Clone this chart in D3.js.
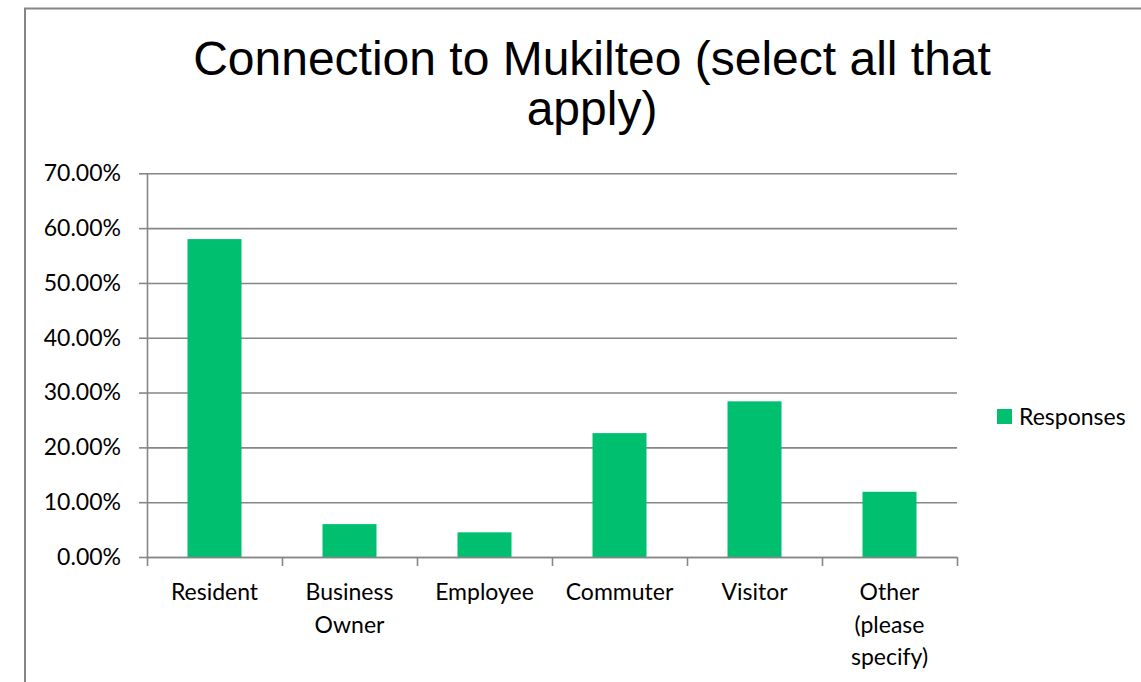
<!DOCTYPE html>
<html>
<head>
<meta charset="utf-8">
<script src="https://cdn.jsdelivr.net/npm/d3@7"></script>
<style>
  body { margin: 0; background: #fff; }
  svg { display: block; }
</style>
</head>
<body>
<div id="chart-container"></div>
<script>
// chart data
const titleLines = ["Connection to Mukilteo (select all that", "apply)"];
const categories = ["Resident", "Business Owner", "Employee", "Commuter", "Visitor", "Other (please specify)"];
const responses = [0.58, 0.06, 0.045, 0.226, 0.284, 0.119];
const yTicks = [0, 0.1, 0.2, 0.3, 0.4, 0.5, 0.6, 0.7];
const seriesName = "Responses";

const W = 1141, H = 682;
const plot = { left: 147, right: 957, top: 173.3, bottom: 557 };
const axisColor = "#868686";
const barColor = "#00BF6F";
const labelFont = "Lato, 'Open Sans', sans-serif";

const svg = d3.select("#chart-container")
    .append("svg")
    .attr("width", W)
    .attr("height", H);

// outer chart frame (runs off the right and bottom edges)
svg.append("rect")
    .attr("x", 25)
    .attr("y", 8.5)
    .attr("width", 1200)
    .attr("height", 800)
    .attr("fill", "#fff")
    .attr("stroke", axisColor)
    .attr("stroke-width", 2);

// title
svg.append("text")
    .attr("x", 592)
    .attr("y", 75)
    .attr("text-anchor", "middle")
    .style("font-family", "'Liberation Sans', Arial, sans-serif")
    .style("font-size", "48px")
    .style("fill", "#000")
    .selectAll("tspan")
    .data(titleLines)
    .enter()
    .append("tspan")
    .attr("x", 592)
    .attr("dy", (d, i) => i === 0 ? 0 : 50)
    .text(d => d);

const x = d3.scaleBand()
    .domain(categories)
    .range([plot.left, plot.right])
    .padding(0);

const y = d3.scaleLinear()
    .domain([0, 0.7])
    .range([plot.bottom, plot.top]);

// gridlines
const grid = svg.append("g")
    .attr("transform", "translate(" + plot.left + ",0)")
    .call(d3.axisRight(y).tickValues(yTicks).tickSize(plot.right - plot.left).tickFormat(""));
grid.select(".domain").remove();
grid.selectAll("line").attr("stroke", axisColor).attr("stroke-width", 1.6);

// y axis
const yAxis = svg.append("g")
    .attr("transform", "translate(" + plot.left + ",0)")
    .call(d3.axisLeft(y)
        .tickValues(yTicks)
        .tickSizeInner(8)
        .tickSizeOuter(0)
        .tickPadding(18)
        .tickFormat(d => (d * 100).toFixed(2) + "%"));
yAxis.select(".domain").attr("stroke", axisColor).attr("stroke-width", 1.6);
yAxis.selectAll("line").attr("stroke", axisColor).attr("stroke-width", 1.6);
yAxis.selectAll("text")
    .style("font-family", labelFont)
    .style("font-size", "23px")
    .style("fill", "#000");

// bars
const barW = x.bandwidth() * 0.4;
svg.selectAll("rect.bar")
    .data(responses)
    .enter()
    .append("rect")
    .attr("class", "bar")
    .attr("x", (d, i) => x(categories[i]) + (x.bandwidth() - barW) / 2)
    .attr("y", d => y(d))
    .attr("width", barW)
    .attr("height", d => y(0) - y(d))
    .attr("fill", barColor);

// x axis with ticks at band boundaries
const boundaries = categories.map(c => x(c)).concat([plot.right]);
const xEdge = d3.scaleLinear().domain([plot.left, plot.right]).range([plot.left, plot.right]);
const xAxis = svg.append("g")
    .attr("transform", "translate(0," + plot.bottom + ")")
    .call(d3.axisBottom(xEdge).tickValues(boundaries).tickSizeInner(9).tickSizeOuter(0).tickFormat(""));
xAxis.select(".domain").attr("stroke", axisColor).attr("stroke-width", 1.6);
xAxis.selectAll("line").attr("stroke", axisColor).attr("stroke-width", 1.6);

// category labels, wrapped to the band width
const labels = svg.append("g")
    .style("font-family", labelFont)
    .style("font-size", "23px")
    .style("fill", "#000");

categories.forEach(cat => {
    const cx = x(cat) + x.bandwidth() / 2;
    const t = labels.append("text")
        .attr("x", cx)
        .attr("y", 600)
        .attr("text-anchor", "middle");
    const words = cat.split(" ");
    let line = [];
    let lineNo = 0;
    let tspan = t.append("tspan").attr("x", cx).attr("dy", 0);
    words.forEach(w => {
        line.push(w);
        tspan.text(line.join(" "));
        if (tspan.node().getComputedTextLength() > x.bandwidth() - 10 && line.length > 1) {
            line.pop();
            tspan.text(line.join(" "));
            line = [w];
            lineNo++;
            tspan = t.append("tspan").attr("x", cx).attr("dy", 32.5).text(w);
        }
    });
});

// legend
const legend = svg.append("g");
legend.append("rect")
    .attr("x", 997)
    .attr("y", 409)
    .attr("width", 15)
    .attr("height", 15)
    .attr("fill", barColor);
legend.append("text")
    .attr("x", 1019)
    .attr("y", 416.5)
    .attr("dy", "0.35em")
    .style("font-family", labelFont)
    .style("font-size", "23px")
    .style("fill", "#000")
    .text(seriesName);
</script>
</body>
</html>
